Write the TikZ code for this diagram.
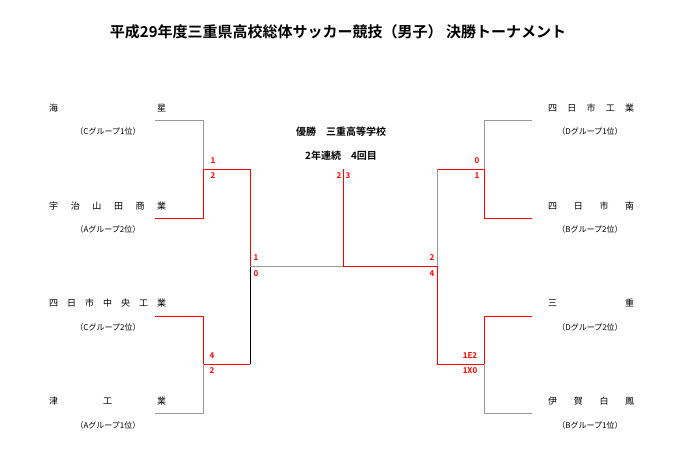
\documentclass[tikz,border=0pt]{standalone}
\usepackage{fontspec}
\newfontfamily\jp{Noto Sans CJK JP}[BoldFont={Noto Sans CJK JP Bold}]
\begin{document}
\begin{tikzpicture}[x=1pt,y=-1pt,
  gl/.style={draw=gray!80,line width=0.8pt},
  rl/.style={draw=red,line width=0.9pt},
  bl/.style={draw=black,line width=0.8pt},
  nm/.style={font=\jp\fontsize{9}{10}\selectfont,inner sep=0pt},
  sub/.style={font=\jp\fontsize{8}{9}\selectfont,inner sep=0pt},
  sc/.style={font=\jp\bfseries\fontsize{8}{9}\selectfont,text=red,inner sep=0pt}]
\useasboundingbox (0,0) rectangle (677,460);
\node[font=\jp\bfseries\fontsize{15}{17}\selectfont] (title) at (338,32) {平成29年度三重県高校総体サッカー競技（男子）\ 決勝トーナメント};
% left teams
\node[nm,anchor=west] (l1) at (49,108) {\makebox[117pt][s]{海\hfill 星}};
\node[sub] (l1s) at (108,131) {（Cグループ1位）};
\node[nm,anchor=west] (l2) at (49,206) {\makebox[117pt][s]{宇\hfill 治\hfill 山\hfill 田\hfill 商\hfill 業}};
\node[sub] (l2s) at (108,229) {（Aグループ2位）};
\node[nm,anchor=west] (l3) at (49,303) {\makebox[117pt][s]{四\hfill 日\hfill 市\hfill 中\hfill 央\hfill 工\hfill 業}};
\node[sub] (l3s) at (108,327) {（Cグループ2位）};
\node[nm,anchor=west] (l4) at (49,401) {\makebox[117pt][s]{津\hfill 工\hfill 業}};
\node[sub] (l4s) at (108,425) {（Aグループ1位）};
% right teams
\node[nm,anchor=west] (r1) at (548,108) {\makebox[86pt][s]{四\hfill 日\hfill 市\hfill 工\hfill 業}};
\node[sub] (r1s) at (590,131) {（Dグループ1位）};
\node[nm,anchor=west] (r2) at (548,206) {\makebox[86pt][s]{四\hfill 日\hfill 市\hfill 南}};
\node[sub] (r2s) at (590,229) {（Bグループ2位）};
\node[nm,anchor=west] (r3) at (548,303) {\makebox[86pt][s]{三\hfill 重}};
\node[sub] (r3s) at (590,327) {（Dグループ2位）};
\node[nm,anchor=west] (r4) at (548,401) {\makebox[86pt][s]{伊\hfill 賀\hfill 白\hfill 鳳}};
\node[sub] (r4s) at (590,425) {（Bグループ1位）};
% bracket coordinates
\coordinate (a1) at (155,120); \coordinate (b1) at (203,120);
\coordinate (a2) at (155,218); \coordinate (b2) at (203,218);
\coordinate (a3) at (155,316); \coordinate (b3) at (203,316);
\coordinate (a4) at (155,413); \coordinate (b4) at (203,413);
\coordinate (m1) at (203,169); \coordinate (n1) at (250,169);
\coordinate (m2) at (203,364); \coordinate (n2) at (250,364);
\coordinate (c1) at (250,266); \coordinate (f) at (343,266); \coordinate (ft) at (343,169);
\coordinate (c2) at (437,266);
\coordinate (ra1) at (532,120); \coordinate (rb1) at (484,120);
\coordinate (ra2) at (532,218); \coordinate (rb2) at (484,218);
\coordinate (ra3) at (532,316); \coordinate (rb3) at (484,316);
\coordinate (ra4) at (532,413); \coordinate (rb4) at (484,413);
\coordinate (rm1) at (484,169); \coordinate (rn1) at (437,169);
\coordinate (rm2) at (484,364); \coordinate (rn2) at (437,364);
% left
\draw[gl] (a1) -- (b1) -- (m1);
\draw[rl] (a2) -- (b2) -- (m1) -- (n1) -- (c1);
\draw[rl] (a3) -- (b3) -- (m2) -- (n2);
\draw[gl] (m2) -- (b4) -- (a4);
\draw[bl] (n2) -- (c1);
\draw[gl] (c1) -- (f);
\draw[rl] (f) -- (c2);
\draw[rl] (f) -- (ft);
% right
\draw[gl] (ra1) -- (rb1) -- (rm1);
\draw[rl] (ra2) -- (rb2) -- (rm1) -- (rn1);
\draw[gl] (rn1) -- (c2);
\draw[rl] (c2) -- (rn2) -- (rm2) -- (rb3) -- (ra3);
\draw[gl] (rm2) -- (rb4) -- (ra4);
% center text
\node[font=\jp\bfseries\fontsize{10}{11}\selectfont] (champ) at (341,132) {優勝\quad 三重高等学校};
\node[font=\jp\bfseries\fontsize{10}{11}\selectfont] (rec) at (341,156) {2年連続\quad 4回目};
% scores
\node[sc] (s1) at (213,161) {1}; \node[sc] (s2) at (213,176) {2};
\node[sc] (s3) at (212,356) {4}; \node[sc] (s4) at (212,371) {2};
\node[sc] (s5) at (256,258) {1}; \node[sc] (s6) at (256,274) {0};
\node[sc] (s7) at (339,176) {2}; \node[sc] (s8) at (348,176) {3};
\node[sc] (s9) at (432,258) {2}; \node[sc] (s10) at (432,274) {4};
\node[sc] (s11) at (477,161) {0}; \node[sc] (s12) at (477,176) {1};
\node[sc] (s13) at (470,356) {1E2}; \node[sc] (s14) at (470,371) {1X0};
\end{tikzpicture}
\end{document}
